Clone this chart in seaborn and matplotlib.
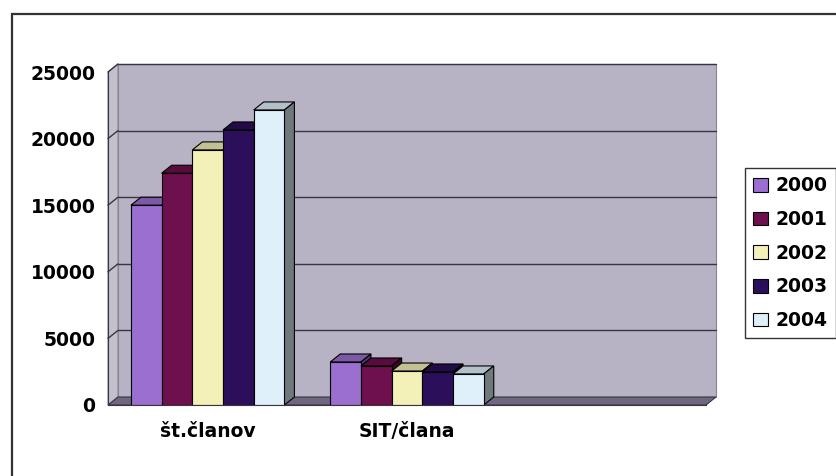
import numpy as np
import pandas as pd
import matplotlib
matplotlib.use('Agg')
import matplotlib.pyplot as plt
from matplotlib.patches import Polygon, Rectangle, Patch
from matplotlib.colors import to_rgb
import seaborn as sns

# podatki
kategorije = ['št.članov', 'SIT/člana']
leta = ['2000', '2001', '2002', '2003', '2004']
st_clanov = [15000, 17400, 19150, 20650, 22150]
sit_clana = [3230, 2930, 2550, 2480, 2330]
barve = ['#9a6fd0', '#6e0f4e', '#f4f1b8', '#2b0f5a', '#dff0fb']
y_oznake = [0, 5000, 10000, 15000, 20000, 25000]

df = pd.DataFrame({
    'kategorija': np.repeat(kategorije, len(leta)),
    'leto': leta * 2,
    'vrednost': st_clanov + sit_clana,
})
vrstni_red = kategorije + ['']   # tretje prazno mesto kot v Excelu

# 3D globina v pikslih
DX, DY = 10, 8
STENA = '#b7b2c4'
LEVA_STENA = '#c3bfcc'
TLA = '#6f6682'
MREZA = '#3a3540'

sns.set_style('white')
plt.rcParams['font.family'] = ['DejaVu Sans']
plt.rcParams['text.color'] = 'black'
plt.rcParams['xtick.color'] = 'black'
plt.rcParams['ytick.color'] = 'black'

fig = plt.figure(figsize=(8.37, 4.76), dpi=100)
fig.patch.set_facecolor('white')
ax = fig.add_axes([108 / 837, 71 / 476, 598 / 837, 333 / 476])
ax.set_facecolor('none')

sns.barplot(data=df, x='kategorija', y='vrednost', hue='leto', order=vrstni_red,
            hue_order=leta, palette=barve, width=0.77, gap=0, saturation=1,
            edgecolor='black', linewidth=0.8, legend=False, ax=ax)

ax.set_xlim(-0.5, 2.5)
ax.set_ylim(0, 25000)
dxd = DX * 3 / 598
dyd = DY * 25000 / 333
x0, x1 = -0.5, 2.5
ytop = y_oznake[-1]

# zadnja stena, leva stena, tla
ax.add_patch(Polygon([(x0 + dxd, dyd), (x1 + dxd, dyd), (x1 + dxd, ytop + dyd), (x0 + dxd, ytop + dyd)],
                     closed=True, facecolor=STENA, edgecolor='#8a8496', lw=0.8, zorder=0.1, clip_on=False))
ax.add_patch(Polygon([(x0, 0), (x0 + dxd, dyd), (x0 + dxd, ytop + dyd), (x0, ytop)],
                     closed=True, facecolor=LEVA_STENA, edgecolor='#8a8496', lw=0.8, zorder=0.2, clip_on=False))
ax.add_patch(Polygon([(x0, 0), (x1, 0), (x1 + dxd, dyd), (x0 + dxd, dyd)],
                     closed=True, facecolor=TLA, edgecolor='#3a3540', lw=0.8, zorder=0.3, clip_on=False))

# mreža na zadnji steni
for y in y_oznake[1:]:
    ax.plot([x0 + dxd, x1 + dxd], [y + dyd, y + dyd], color=MREZA, lw=1.0, zorder=0.25, clip_on=False)
    ax.plot([x0, x0 + dxd], [y, y + dyd], color=MREZA, lw=1.0, zorder=0.25, clip_on=False)

# 3D stolpci: vrh in bok iz geometrije stolpcev
stolpci = sorted([p for p in ax.patches if isinstance(p, Rectangle) and p.get_height() > 0],
                 key=lambda p: p.get_x())
for i, p in enumerate(stolpci):
    bx0, bw, h = p.get_x(), p.get_width(), p.get_height()
    bx1 = bx0 + bw
    c = np.array(to_rgb(p.get_facecolor()))
    vrh = c * 0.8
    bok = c * 0.5
    z = 2 + 2 * i
    ax.add_patch(Polygon([(bx0, h), (bx1, h), (bx1 + dxd, h + dyd), (bx0 + dxd, h + dyd)],
                         closed=True, facecolor=vrh, edgecolor='black', lw=0.8, zorder=z, clip_on=False))
    ax.add_patch(Polygon([(bx1, 0), (bx1 + dxd, dyd), (bx1 + dxd, h + dyd), (bx1, h)],
                         closed=True, facecolor=bok, edgecolor='black', lw=0.8, zorder=z, clip_on=False))
    p.set_zorder(z + 1)

# osi
for s in ['top', 'right']:
    ax.spines[s].set_visible(False)
ax.spines['left'].set_color('#3a3540')
ax.spines['bottom'].set_color('#3a3540')
ax.spines['left'].set_zorder(0.4)
ax.spines['bottom'].set_zorder(50)

ax.set_yticks(y_oznake)
ax.set_yticklabels([str(v) for v in y_oznake], fontsize=13.5, fontweight='bold', color='black')
ax.tick_params(axis='y', direction='out', length=5, width=1, color='#3a3540', pad=4)
ax.set_xticks([0, 1, 2])
ax.set_xticklabels(vrstni_red, fontsize=13.5, fontweight='bold', color='black')
ax.set_xticks([-0.5, 0.5, 1.5, 2.5], minor=True)
ax.tick_params(axis='x', which='major', length=0, pad=12)
ax.tick_params(axis='x', which='minor', direction='out', length=5, width=1, color='#3a3540')
ax.set_xlabel('')
ax.set_ylabel('')

# legenda
rocaji = [Patch(facecolor=b, edgecolor='black', lw=0.8, label=l) for b, l in zip(barve, leta)]
leg = fig.legend(handles=rocaji, loc='upper left', bbox_to_anchor=(745 / 837, 1 - 168 / 476),
                 bbox_transform=fig.transFigure, frameon=True, fancybox=False,
                 prop={'size': 13.5, 'weight': 'bold'}, handlelength=0.8, handleheight=0.75,
                 handletextpad=0.4, labelspacing=0.78, borderpad=0.45, borderaxespad=0)
leg.get_frame().set_edgecolor('black')
leg.get_frame().set_linewidth(1.0)
for t in leg.get_texts():
    t.set_color('black')

# okvir grafikona
vrh_okvirja = 1 - 14 / 476
fig.add_artist(Rectangle((12 / 837, -0.2), 1.2, vrh_okvirja + 0.2, transform=fig.transFigure,
                         fill=False, edgecolor='#333333', lw=1.6, clip_on=False))

fig.savefig('out.png', dpi=100)
